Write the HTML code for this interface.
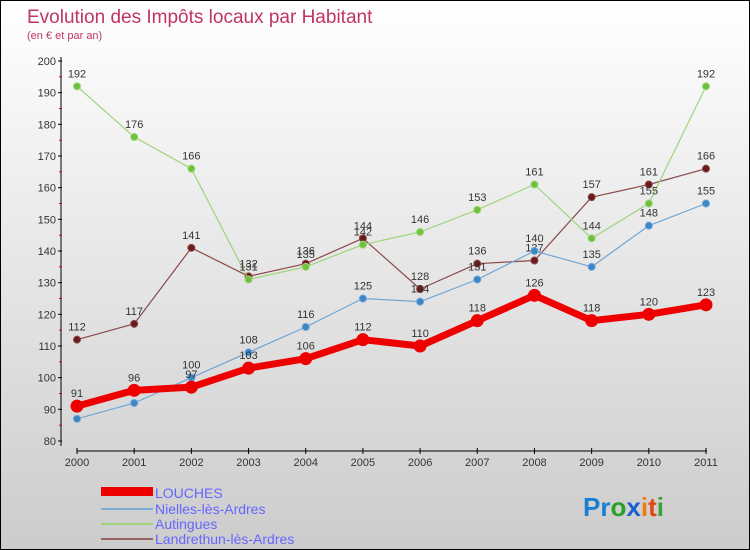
<!DOCTYPE html>
<html><head><meta charset="utf-8"><style>
body{margin:0}
#c{width:748px;height:548px;border:1px solid #000;background:linear-gradient(#fff,#ccc);position:relative;overflow:hidden;font-family:"Liberation Sans",sans-serif}
</style></head><body>
<div id="c">
<svg id="s" width="748" height="548" style="position:absolute;left:0;top:0">
<text x="26" y="22" font-size="19" fill="#c0355f">Evolution des Impôts locaux par Habitant</text>
<text x="26" y="38" font-size="11" fill="#c0355f">(en € et par an)</text>
<g id="g"></g>
<g>
<rect x="100" y="486" width="52" height="9" fill="#e00"/>
<text x="154" y="497" font-size="14" fill="#66f">LOUCHES</text>
<line x1="100" y1="508" x2="152" y2="508" stroke="#7aaed6" stroke-width="2"/>
<text x="154" y="513" font-size="14" fill="#66f">Nielles-lès-Ardres</text>
<line x1="100" y1="523" x2="152" y2="523" stroke="#9ed47a" stroke-width="2"/>
<text x="154" y="528" font-size="14" fill="#66f">Autingues</text>
<line x1="100" y1="538" x2="152" y2="538" stroke="#9b6060" stroke-width="2"/>
<text x="154" y="543" font-size="14" fill="#66f">Landrethun-lès-Ardres</text>
</g>
<text x="582" y="515" font-size="26" font-weight="bold"><tspan fill="#1a7fd0">Pr</tspan><tspan fill="#2aa02a">o</tspan><tspan fill="#1a5fd0">x</tspan><tspan fill="#f07a10">i</tspan><tspan fill="#e04a10">t</tspan><tspan fill="#3aa03a">i</tspan></text>
</svg></div>
<script>
const years=["2000","2001","2002","2003","2004","2005","2006","2007","2008","2009","2010","2011"];
const yTicks=[80,90,100,110,120,130,140,150,160,170,180,190,200];
const louches=[91,96,97,103,106,112,110,118,126,118,120,123];
const nielles=[87,92,100,108,116,125,124,131,140,135,148,155];
const autingues=[192,176,166,131,135,142,146,153,161,144,155,192];
const landrethun=[112,117,141,132,136,144,128,136,137,157,161,166];
const NS="http://www.w3.org/2000/svg";
const g=document.getElementById('g');
const X=i=>76+i*(705-76)/11;
const Y=v=>440-(v-80)*(380/120);
function mk(t,a,p){const e=document.createElementNS(NS,t);for(const k in a)e.setAttribute(k,a[k]);(p||g).appendChild(e);return e;}
let e=mk('line',{x1:60,y1:56,x2:60,y2:445,stroke:'#000'});


e=mk('line',{x1:76,y1:450,x2:706,y2:450,stroke:'#000'});


yTicks.forEach(v=>{
 mk('line',{x1:57,y1:Y(v),x2:61,y2:Y(v),stroke:'#000'});
 if(v<200)mk('line',{x1:58,y1:Y(v+5),x2:61,y2:Y(v+5),stroke:'#d00'});
 const t=mk('text',{x:55,y:Y(v)+4,'font-size':11,'text-anchor':'end',fill:'#333'});t.textContent=v;
 
 
});
years.forEach((y,i)=>{
 mk('line',{x1:X(i),y1:447,x2:X(i),y2:453,stroke:'#000'});
 const t=mk('text',{x:X(i),y:465,'font-size':11,'text-anchor':'middle',fill:'#333'});t.textContent=y;
 
 
});
function series(d,col,dot,w,r,name){
 const s=mk('polyline',{points:d.map((v,i)=>X(i)+','+Y(v)).join(' '),fill:'none',stroke:col,'stroke-width':w,'stroke-linejoin':'round'});
 
 
 d.forEach((v,i)=>{
  const c=mk('circle',{cx:X(i),cy:Y(v),r:r,fill:dot,stroke:col,'stroke-width':1});
  
  
  const t=mk('text',{x:X(i),y:Y(v)-9,'font-size':11,'text-anchor':'middle',fill:'#333'});t.textContent=v;
  
  
 });
}
series(landrethun,'#8b4a4a','#6b1a1a',1.2,3.5,'landrethun');
series(autingues,'#9ed47a','#6cc23a',1.2,3.5,'autingues');
series(nielles,'#6fa6d6','#3a86c6',1.2,3.5,'nielles');
series(louches,'#e00','#e00',7,6,'louches');
</script>
</body></html>
